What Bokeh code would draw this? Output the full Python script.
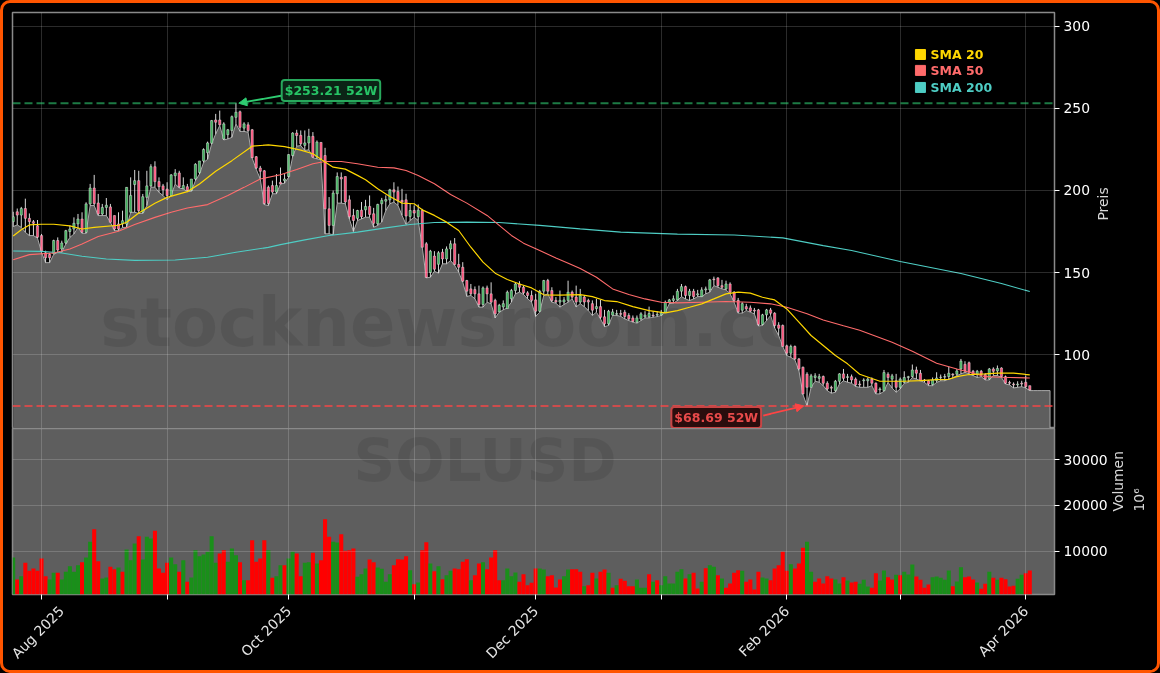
from math import pi

import pandas as pd
from bokeh.core.properties import value
from bokeh.embed import file_html
from bokeh.layouts import column
from bokeh.models import (Arrow, FixedTicker, GlobalInlineStyleSheet, Label, LinearAxis, NormalHead,
                          NumeralTickFormatter, Range1d, Span)
from bokeh.plotting import figure
from bokeh.resources import INLINE

# Daily candles, 25 Jul 2025 to 2 Apr 2026
start_date = "2025-07-25"
opens = [
    181, 187, 185, 189, 183, 181, 178.5, 172.5, 162, 161,
    161.5, 169.5, 164.3, 168, 175, 176.5, 179.6, 182.6, 174.5, 191.8,
    201.5, 192.4, 185.7, 189.7, 190, 184.7, 179.6, 179.6, 179.6, 186.7,
    203.6, 206, 186.7, 195.8, 202.8, 214.5, 205.4, 202.8, 200.9, 196.9,
    209, 210.7, 201, 202.3, 200, 207, 211, 218, 223, 228.8,
    243, 243, 231.4, 234, 236.5, 244.6, 248, 238, 240, 237,
    220.6, 213.7, 212, 202, 203, 199, 205, 206, 208.5, 221.3,
    235, 233.6, 227.5, 229, 233, 220.3, 229.3, 221.3, 188.8, 178.7,
    198, 208, 208.5, 194.3, 184.8, 183, 188, 188.2, 190.3, 185.8,
    179.7, 191.9, 193.5, 194.3, 200.4, 199.4, 194, 194.3, 184.2, 187.8,
    184, 187.8, 167.5, 150, 160, 155, 162.4, 158.3, 164.4, 167.5,
    154.9, 153.2, 145.1, 140, 139.6, 137, 130.5, 140.6, 137, 133,
    126, 129, 128, 134, 139, 143, 141, 137.6, 136, 133.3,
    126.4, 138.6, 145.1, 139, 133, 132, 132, 133, 138, 135,
    132, 135, 133, 131, 128, 129.2, 123, 118.7, 124, 124.5,
    125, 125.8, 123.8, 122.3, 119.7, 121.7, 123, 123, 124, 124,
    124, 125.8, 131.9, 133, 133.3, 138.6, 141.4, 136, 138.6, 136.3,
    135.3, 139.4, 139.4, 146, 146.7, 142, 140, 143, 138, 133,
    127, 129.2, 128.4, 127, 127.2, 118.3, 124.2, 127.2, 125.2, 118,
    117.7, 105.3, 100.8, 104.9, 97.3, 92.2, 88, 80, 86, 85.5,
    86.6, 82.5, 80, 78, 83.7, 88.2, 86, 86.5, 85, 82,
    84, 84, 85, 82.5, 78.5, 78, 88, 85, 84, 80,
    83, 86, 86.6, 90.6, 88.6, 84.5, 84, 81.7, 84.1, 86,
    86.2, 86.6, 88, 88, 91.2, 94, 95, 89.8, 88, 89.8,
    87.8, 85.1, 91.2, 90, 91.8, 86.5, 83, 82, 81.5, 82.5,
    83.1, 81,
]
highs = [
    187, 189, 190, 195, 186, 182, 182, 173.5, 163.3, 162,
    170, 171.4, 169.4, 176, 178.6, 183.6, 185.7, 186.7, 192.8, 204,
    209.5, 197.9, 191.8, 195.4, 191.8, 184.7, 186.7, 187.7, 202, 208,
    212.5, 212, 197.9, 212, 216, 217.8, 208, 204, 205, 210,
    213, 212, 208, 204, 207, 216.6, 218, 225.7, 229.8, 243,
    246.7, 248.7, 241.6, 237.5, 245.7, 253.21, 248.7, 241.6, 241.6, 237.5,
    221, 215, 212.5, 203, 206, 210, 214, 210, 222, 235.5,
    237, 236.6, 236.6, 237.6, 235.6, 230.5, 229.5, 226, 196, 200,
    211, 211, 208.5, 197, 188.8, 188.2, 193, 194.3, 197, 189.4,
    191.9, 195.5, 197, 201, 205, 202.4, 201, 198, 192.3, 190.9,
    191.5, 188.8, 168.5, 163.8, 163, 163, 164.4, 165.9, 169.5, 171,
    161.4, 156.3, 145.5, 143, 141.5, 142, 141.5, 142, 144, 134,
    130.9, 133, 139, 140, 144, 144.7, 142, 138.6, 139, 137,
    139.4, 145.5, 146.1, 141, 135, 139, 135, 145, 139, 142,
    140, 136, 134, 133, 134, 133.3, 127.2, 127.2, 127.8, 127.2,
    127.2, 127.2, 125.2, 123.8, 123.8, 125.8, 126.4, 129.2, 126.4, 126.4,
    127.2, 132.9, 133.9, 136, 140, 143, 142, 140, 140, 139.4,
    141, 141.4, 146.1, 147.5, 147.1, 145.5, 145, 144, 138.6, 134.5,
    131.9, 130.9, 129.9, 128.4, 127.8, 124.8, 127.8, 128.4, 125.8, 119.7,
    118.3, 106, 106, 105.5, 97.9, 92.7, 89.2, 88.2, 88.6, 88.2,
    87.2, 83.7, 81, 84.5, 88.6, 91.2, 88.2, 87.8, 86, 84,
    85.5, 86, 86, 83, 80, 90.6, 89.2, 88.2, 88.2, 86,
    89.8, 87, 93.9, 92.6, 90.6, 85.1, 84.5, 86, 89.2, 87.8,
    88.2, 92.6, 88.6, 91.2, 97.3, 95.9, 95.7, 90.6, 90.6, 90.6,
    88.6, 91.8, 92.2, 93.3, 92.2, 87.2, 84, 83, 83.7, 84,
    87.2, 81,
]
lows = [
    178, 179, 177.5, 174.5, 172.5, 172.5, 171, 162.3, 156, 156,
    161, 162.3, 162.3, 167.4, 171.4, 173.5, 177.5, 173.9, 173.9, 190.8,
    190.8, 184.7, 184.7, 184.7, 180.6, 175.5, 175.5, 177.5, 177.5, 186.7,
    186.7, 186, 186, 190.8, 202, 202, 198.9, 196.9, 194.4, 196.9,
    204, 201.5, 201, 199.3, 199.5, 206, 210, 217, 219, 228.4,
    234.5, 239.6, 230.8, 231.4, 232.4, 240.6, 236, 236, 235.5, 219.8,
    213, 207, 191.4, 190.8, 198, 198, 204, 204.4, 208, 220.6,
    227, 227.4, 224.4, 224.8, 220, 219.3, 218.7, 173.6, 173.6, 173,
    192.3, 192.3, 191.9, 182.7, 175, 181.7, 182.7, 183.7, 183.7, 177.6,
    178.7, 180.7, 187.8, 191.9, 192.9, 190.9, 184.8, 179.3, 181.7, 183.7,
    181.7, 165.4, 146.7, 147.1, 150.8, 149.6, 155.3, 155.3, 157.3, 154.3,
    150.2, 144.1, 135.4, 136, 134, 128.9, 128.9, 131.9, 130.9, 122.3,
    125.8, 127.2, 128.4, 131.9, 137, 138, 136.6, 134, 131.9, 123.2,
    125.8, 136, 137, 131.9, 131.3, 128.9, 130.5, 131.9, 134, 129,
    131, 129.2, 126.8, 123.8, 125.8, 121.7, 117, 117.7, 123.8, 123.8,
    123.3, 121.7, 120.7, 119.7, 119.1, 120.7, 122.3, 122.3, 122.7, 123.1,
    123.8, 125.8, 131, 131.3, 132.9, 135.3, 133.9, 132.9, 133.9, 135.3,
    135.3, 137, 138, 142, 141, 140, 139.4, 137, 131.9, 125.2,
    125.2, 126.8, 125.8, 124.8, 117.4, 117.7, 120.7, 123.8, 116.2, 111.6,
    104.9, 99.4, 98.3, 96.7, 90.2, 75.6, 68.69, 80, 83.7, 83.1,
    81, 78, 76.4, 77, 82, 84, 83.1, 82.5, 80.5, 80,
    80, 80, 81, 76, 76, 77.6, 83, 79.6, 77, 79,
    82.5, 83, 86, 85, 84, 83, 81, 81, 83, 84,
    84, 85, 85.7, 87.2, 88.2, 89.2, 88.2, 87.2, 86, 86.5,
    84.5, 84.5, 87.2, 87.2, 86, 82, 81.5, 79.6, 80, 80.4,
    79.6, 78,
]
closes = [
    184, 185, 189, 183, 181, 180, 171.5, 163, 159, 159,
    169.5, 163.7, 168, 175.5, 176.5, 180, 182.6, 174.5, 191.8, 201.5,
    192, 185.7, 189.7, 191, 180.6, 176.5, 176.5, 181.6, 201.9, 197,
    206, 187.7, 196.2, 202.8, 214.5, 205.4, 202.3, 200.5, 196.9, 209.5,
    210.7, 202.3, 203, 200, 207, 216, 218, 225, 229, 242.6,
    241.6, 240, 240.6, 237, 245, 247.7, 238.5, 240.6, 236.5, 220,
    213.7, 211.7, 192, 192, 199, 203, 204, 207, 221.9, 235,
    233.5, 228.5, 229, 233, 220.3, 229.5, 219.3, 188.8, 178.7, 198.4,
    208.5, 207, 193, 184, 181.7, 187.8, 184, 190.3, 185.4, 180,
    191.5, 194, 194.5, 200.4, 199, 193.9, 193, 184.4, 187.8, 186.2,
    188, 165.4, 147, 163, 152, 162, 158.3, 164.4, 167.5, 154.9,
    153.2, 144.7, 138.6, 137, 137, 130.5, 140.6, 137, 131.9, 124.8,
    130, 131, 138, 139, 143, 141, 137.6, 136, 133, 126.4,
    138.6, 145.1, 138.6, 132.9, 132, 133, 133.3, 138, 135, 132,
    136, 132, 132, 127, 129.2, 122.7, 118.7, 126.4, 126, 125,
    124.5, 123.2, 121.7, 120.1, 122.3, 124.8, 124, 125, 123.5, 124.5,
    125.5, 131.9, 133.3, 134, 138.6, 141.4, 136, 138.6, 135.3, 137,
    139.4, 140, 145.5, 145.6, 142, 141, 143, 138, 133, 126,
    131, 127.8, 126.4, 126.5, 118.3, 124.2, 127.2, 125.2, 117.7, 116,
    104.9, 100.8, 104.9, 97.3, 91.2, 76, 80, 87, 87, 86.5,
    82.5, 79, 79.5, 83.7, 88.2, 85.5, 86.5, 84.5, 81.5, 81.5,
    84.5, 85, 82.5, 77, 79, 89, 86, 87, 80, 85,
    86, 86.5, 90.6, 88.6, 84, 84, 82, 84.5, 85.7, 86.2,
    86.6, 88.6, 87.5, 90, 96, 90, 89.2, 87.8, 89.8, 87.8,
    85.1, 91.2, 89.8, 91.5, 86.5, 82.5, 82.5, 81.5, 82, 82,
    80.4, 78.4,
]
# volume in 10^6, with its bar colour (G / R) as drawn
volumes = [
    8690, 3910, 4640, 7530, 5800, 6300, 5800, 8480, 4640, 3910,
    5360, 5360, 3910, 5580, 6810, 5580, 7030, 7680, 8690, 12100,
    14850, 7900, 4130, 4350, 6660, 6160, 6520, 5580, 10430, 8110,
    11740, 13330, 8260, 13190, 12820, 14490, 6300, 5360, 7530, 8690,
    7240, 5580, 8110, 3400, 4350, 10290, 8980, 9350, 9920, 13330,
    7530, 9560, 10290, 7750, 10650, 9200, 7680, 3770, 3770, 12460,
    7750, 8480, 12460, 10290, 4270, 4640, 7030, 7030, 8480, 9920,
    9560, 4640, 7530, 7680, 9710, 7390, 8110, 17030, 13190, 12100,
    11950, 13770, 10140, 10290, 10650, 4490, 5070, 6300, 8260, 7680,
    6520, 6230, 3400, 5070, 7030, 8330, 8260, 8980, 5940, 2900,
    3260, 10290, 12030, 7390, 5720, 6810, 3980, 4850, 5800, 6300,
    6160, 7750, 8330, 3770, 4850, 7390, 7680, 6160, 8690, 10290,
    3770, 3770, 6300, 4640, 5430, 3400, 5070, 2680, 3190, 6300,
    6300, 6080, 4640, 4850, 2170, 3910, 4640, 6080, 6160, 6160,
    5580, 2460, 2680, 5360, 4130, 5580, 6080, 5360, 2100, 2680,
    4050, 3620, 2460, 2460, 3910, 2100, 2100, 5070, 3400, 3770,
    2680, 4640, 3040, 3040, 5580, 6160, 4130, 5070, 5360, 1950,
    3400, 6370, 7030, 6660, 4850, 4130, 2100, 3040, 5360, 5940,
    5800, 3400, 3910, 1740, 5580, 4350, 4130, 3770, 6300, 7030,
    9920, 5800, 7240, 6300, 7390, 10790, 12100, 5580, 3400, 4130,
    3040, 4640, 4130, 3910, 3040, 4420, 3690, 3260, 3400, 2970,
    3840, 2390, 2100, 5290, 3690, 5870, 4420, 3910, 4920, 4850,
    5580, 5000, 7170, 4560, 3840, 2100, 2820, 4420, 4560, 4270,
    3840, 5870, 2460, 3480, 6590, 4420, 4560, 3910, 3260, 1880,
    2970, 5580, 4270, 3840, 4270, 3980, 2390, 2530, 4050, 4920,
    5290, 5870,
]
vol_dir = ("GRGRRRRRRG" "GRGGGGGRGG" "RRGGRRGRGG" "GRGGGRRRRG" "GRGRGGGGGG"
           "GRRGGGRGRR" "RRRGRGGRGG" "RRGGRGRRRG" "GRRRRGGGRR" "GGGGRRRRGR"
           "GRRGRGRGGR" "RRRGRRGRRR" "RGGGGRRRRR" "GGRRRRGGRR" "RGRRGRRGRG"
           "RRRRGGGRGR" "GGGGGGRGRR" "GRGGRGRRRR" "GRRRRGGRRR" "RRGRRRGGRR"
           "RRRGGRGRRG" "GGRRGGRRGR" "GGGRRRRGGG" "GGRGGRRRGR" "RGRGRRRRGG"
           "RR")

# Moving averages, read at the day numbers next to them
sma20_days = [0, 2, 4, 7, 10, 14, 17, 20, 26, 28, 31, 35, 38, 43, 46, 50, 54, 59, 63, 67, 71,
              74, 77, 79, 82, 85, 87, 90, 93, 96, 99, 101, 104, 107, 110, 113, 116, 119, 122,
              125, 128, 131, 135, 140, 143, 146, 149, 153, 157, 161, 164, 167, 170, 173, 176,
              179, 182, 185, 188, 191, 194, 197, 200, 203, 206, 209, 214, 216, 220, 224, 228,
              231, 233, 236, 240, 243, 247, 251]
sma20 = [172.3, 176.1, 179, 179.4, 179.4, 178.4, 176.5, 177.5, 178.8, 180.6, 186.3, 192.2, 195.8,
         199.3, 204, 211.7, 218.2, 227, 227.8, 226.7, 224.6,
         222.4, 217.3, 214.2, 213, 209.2, 206.5, 201, 196.3, 192.3, 191.9, 188.2, 184.8, 180.7,
         175.6, 165.4, 156.3, 149.6, 145.7, 143, 140.6, 136.4, 136.2, 136.5, 135.3, 132.9, 132.3,
         129.2, 126.8, 125.4, 126.8, 128.8, 130.9, 133.9, 137, 138, 137.4, 134.9, 133.3, 127.8,
         119.7, 111.6, 105.5, 99.4, 94.3, 88, 83.7, 83.7, 83.7, 84.1, 84.7,
         84.9, 86.5, 87.8, 88.2, 88.6, 88.6, 87.6]
sma50_days = [0, 4, 10, 14, 17, 21, 26, 30, 35, 39, 43, 48, 53, 57, 61, 66, 70, 74, 77, 81, 85, 90,
              94, 97, 100, 104, 108, 112, 117, 120, 123, 126, 130, 134, 140, 144, 148, 152, 156,
              160, 164, 170, 176, 182, 187, 191, 196, 200, 205, 209, 217, 222, 228, 233, 237, 240,
              244, 251]
sma50 = [157.8, 160.9, 161.9, 164.3, 167.4, 171.9, 175.1, 179.2, 183.6, 186.7, 189.3, 191.4, 196.9,
         201.9, 207, 209.6, 212.8, 216.3, 217.7, 217.7, 216.3, 214.2, 213.8, 212.2, 209.2, 204.1,
         197.6, 192.3, 184.8, 178.7, 172.6, 167.9, 163.4, 158.9, 152.5, 147.1, 140, 136.6, 133.9,
         131.9, 131.5, 131.9, 132.3, 131.9, 130.9, 128.8, 124.8, 121.1, 117.5, 114.8, 107.5, 102,
         94.7, 91.2, 88.6, 86.5, 86.1, 85.7]
sma200_days = [0, 7, 12, 17, 23, 30, 40, 48, 55, 63, 66, 72, 78, 85, 92, 98, 104, 112, 120, 130, 140,
               150, 164, 178, 190, 200, 207, 219, 234, 244, 251]
sma200 = [163.1, 162.9, 161.9, 159.9, 158.2, 157.4, 157.6, 159.3, 162.3, 165.3, 167, 169.9, 172.6,
          174.6, 177.2, 179.3, 180.5, 180.7, 180.5, 178.7, 176.6, 174.6, 173.4, 172.9, 171.1, 166.4,
          163.4, 156.7, 149.4, 143.3, 138.4]

month_ticks = ["2025-08-01", "2025-09-01", "2025-10-01", "2025-11-01", "2025-12-01",
               "2026-01-01", "2026-02-01", "2026-03-01", "2026-04-01"]
month_labels = ["Aug 2025", "", "Oct 2025", "", "Dec 2025", "", "Feb 2026", "", "Apr 2026"]
price_ticks = [100, 150, 200, 250, 300]
volume_ticks = [10000, 20000, 30000]
year_high = 253.21
year_low = 68.69

UP_COLOR = "#3fb25c"
DOWN_COLOR = "#ff4d79"
YELLOW = "#ffd700"
SALMON = "#ff6b6b"
TEAL = "#4ecdc4"
GREEN_NOTE = "#2ecc71"
RED_NOTE = "#ff4444"
PANEL_GREY = "#5e5e5e"
DAY_MS = 86400000
FONT = "DejaVu Sans"

dates = pd.date_range(start_date, periods=len(opens), freq="D")


def day(n):
    # day number to a date on the x axis
    return pd.Timestamp(start_date) + pd.Timedelta(days=n)


def ms(stamp):
    return int(pd.Timestamp(stamp).timestamp() * 1000)


x_range = Range1d(ms(day(-0.17)), ms(day(257.1)))
tick_ms = [ms(t) for t in month_ticks]


def style_common(fig):
    fig.border_fill_color = "#000000"
    fig.outline_line_color = "#8a8a8a"
    fig.outline_line_width = 1.5
    fig.xgrid.ticker = FixedTicker(ticks=tick_ms)
    fig.xgrid.grid_line_color = "#ffffff"
    fig.xgrid.grid_line_alpha = 0.17
    fig.ygrid.grid_line_color = "#ffffff"
    fig.ygrid.grid_line_alpha = 0.17
    fig.grid.level = "glyph"
    fig.yaxis.major_tick_line_color = "#ffffff"
    fig.yaxis.major_tick_out = 5
    fig.yaxis.major_tick_in = 0
    fig.yaxis.minor_tick_line_color = None
    fig.yaxis.axis_line_color = None
    fig.yaxis.major_label_text_color = "#ffffff"
    fig.yaxis.major_label_text_font = FONT
    fig.yaxis.major_label_text_font_size = "13.9px"
    fig.yaxis.major_label_standoff = 4
    fig.yaxis.axis_label_text_color = "#d8d8d8"
    fig.yaxis.axis_label_text_font = FONT
    fig.yaxis.axis_label_text_font_size = "13.9px"
    fig.yaxis.axis_label_text_font_style = "normal"
    fig.yaxis.axis_label_orientation = pi / 2


# -- price panel
price = figure(width=None, height=None, frame_width=1042, frame_height=416, x_axis_type="datetime",
               x_axis_location=None, y_axis_location="right", x_range=x_range,
               y_range=Range1d(54.9, 308.5), toolbar_location=None, output_backend="svg",
               min_border_left=4, min_border_right=98, min_border_top=4, min_border_bottom=0)
price.background_fill_color = "#000000"
style_common(price)
price.yaxis.ticker = FixedTicker(ticks=price_ticks)
price.yaxis.axis_label = "Preis"
price.yaxis.axis_label_standoff = 10

# grey area under the lows, held flat for the last days
fill_days = list(dates) + [day(n) for n in range(252, 257)]
fill_lows = lows + [lows[-1]] * 5
price.varea(x=fill_days, y1=fill_lows, y2=0, fill_color=PANEL_GREY, level="underlay")
price.line(x=fill_days + [fill_days[-1]], y=fill_lows + [0], line_color="#a8a8a8", line_width=1,
           level="underlay")
price.text(x=[day(116.9)], y=[119], text=["stocknewsroom.com"], text_font=value(FONT),
           text_font_style="bold", text_font_size=value("67px"), text_color="#000000",
           text_alpha=0.09, text_align="center", text_baseline="alphabetic", level="underlay")

price.segment(x0=dates, y0=lows, x1=dates, y1=highs, line_color="#d8d8d8", line_width=1)
body_colors = [UP_COLOR if c >= o else DOWN_COLOR for o, c in zip(opens, closes)]
price.vbar(x=dates, bottom=opens, top=closes, width=0.55 * DAY_MS, fill_color=body_colors,
           line_color="#e4e4e4", line_width=0.6, line_alpha=0.8)

price.line(x=[day(n) for n in sma200_days], y=sma200, line_color=TEAL, line_width=1.1)
price.line(x=[day(n) for n in sma50_days], y=sma50, line_color=SALMON, line_width=1.1)
price.line(x=[day(n) for n in sma20_days], y=sma20, line_color=YELLOW, line_width=1.2)

price.add_layout(Span(location=year_high, dimension="width", line_color=GREEN_NOTE, line_alpha=0.6,
                      line_width=2, line_dash="8 4"))
price.add_layout(Span(location=year_low, dimension="width", line_color=RED_NOTE, line_alpha=0.7,
                      line_width=2, line_dash="8 4"))

price.add_layout(Arrow(end=NormalHead(size=8, fill_color=GREEN_NOTE, line_color=GREEN_NOTE),
                       x_start=ms(day(66.5)), y_start=257.9, x_end=ms(day(55.7)), y_end=year_high,
                       line_color=GREEN_NOTE, line_width=1.8))
price.add_layout(Arrow(end=NormalHead(size=8, fill_color=RED_NOTE, line_color=RED_NOTE),
                       x_start=ms(day(185.2)), y_start=62.8, x_end=ms(day(195.2)), y_end=year_low,
                       line_color=RED_NOTE, line_width=1.8))
price.add_layout(Label(x=ms(day(66.3)), y=261, text="$253.21 52W", text_color="#27c466",
                       text_font=FONT, text_font_style="bold", text_font_size="12.5px",
                       text_baseline="middle", padding=3, border_radius=3,
                       background_fill_color="#0b2416", background_fill_alpha=1,
                       border_line_color="#27a85c", border_line_width=2))
price.add_layout(Label(x=ms(day(162.5)), y=61.6, text="$68.69 52W", text_color="#e84a4a",
                       text_font=FONT, text_font_style="bold", text_font_size="12.5px",
                       text_baseline="middle", padding=3, border_radius=3,
                       background_fill_color="#2a0d0d", background_fill_alpha=1,
                       border_line_color="#c84545", border_line_width=2))

# legend squares and colored names
for name, color, level_y in [("SMA 20", YELLOW, 282.9), ("SMA 50", SALMON, 273.2), ("SMA 200", TEAL, 262.8)]:
    price.scatter(x=[day(224)], y=[level_y], marker="square", size=10, fill_color=color, line_color=color)
    price.text(x=[day(226.5)], y=[level_y], text=[name], text_color=color, text_font=value(FONT),
               text_font_style="bold", text_font_size=value("12.5px"), text_baseline="middle")

# -- volume panel
volume = figure(width=None, height=None, frame_width=1042, frame_height=166, x_axis_type="datetime",
                x_range=x_range, y_axis_location="right", y_range=Range1d(650, 36740),
                toolbar_location=None, output_backend="svg",
                min_border_left=4, min_border_right=98, min_border_top=0, min_border_bottom=70)
volume.background_fill_color = PANEL_GREY
style_common(volume)
volume.yaxis.ticker = FixedTicker(ticks=volume_ticks)
volume.yaxis.formatter = NumeralTickFormatter(format="0")
volume.yaxis.axis_label = "Volumen"
volume.yaxis.axis_label_standoff = 7

# exponent next to the axis name, as an empty axis of its own
power_axis = LinearAxis(ticker=FixedTicker(ticks=[]), axis_label="10⁶", axis_label_standoff=2,
                        axis_label_text_color="#d8d8d8", axis_label_text_font=FONT,
                        axis_label_text_font_size="13.9px", axis_label_text_font_style="normal",
                        axis_label_orientation=pi / 2, axis_line_color=None,
                        major_tick_line_color=None, minor_tick_line_color=None)
volume.add_layout(power_axis, "right")

volume.xaxis.ticker = FixedTicker(ticks=tick_ms)
volume.xaxis.major_label_overrides = dict(zip(tick_ms, month_labels))
volume.xaxis.major_label_orientation = pi / 4
volume.xaxis.major_label_standoff = 9
volume.xaxis.major_label_text_color = "#e6e6e6"
volume.xaxis.major_label_text_font = FONT
volume.xaxis.major_label_text_font_size = "13.9px"
volume.xaxis.major_tick_line_color = "#ffffff"
volume.xaxis.major_tick_out = 5
volume.xaxis.major_tick_in = 0
volume.xaxis.minor_tick_line_color = None
volume.xaxis.axis_line_color = None

volume.add_layout(Label(x=ms(day(116.5)), y=29780, text="SOLUSD", text_font=FONT,
                        text_font_style="bold", text_font_size="58px", text_color="#000000",
                        text_alpha=0.09, text_align="center", text_baseline="middle",
                        level="underlay"))
bar_colors = ["#1a8f1a" if d == "G" else "#ff0000" for d in vol_dir]
volume.vbar(x=dates, bottom=0, top=volumes, width=DAY_MS, fill_color=bar_colors, line_color=None)

page = column(price, volume, spacing=0)
page.stylesheets = [GlobalInlineStyleSheet(css="""
html, body { background: #000000; }
body { margin: 8px !important; }
body::before { content: ""; position: fixed; inset: 0; border: 3px solid #ff5500;
               border-radius: 10px; pointer-events: none; }
""")]

open("out.html", "w").write(file_html(page, INLINE))
